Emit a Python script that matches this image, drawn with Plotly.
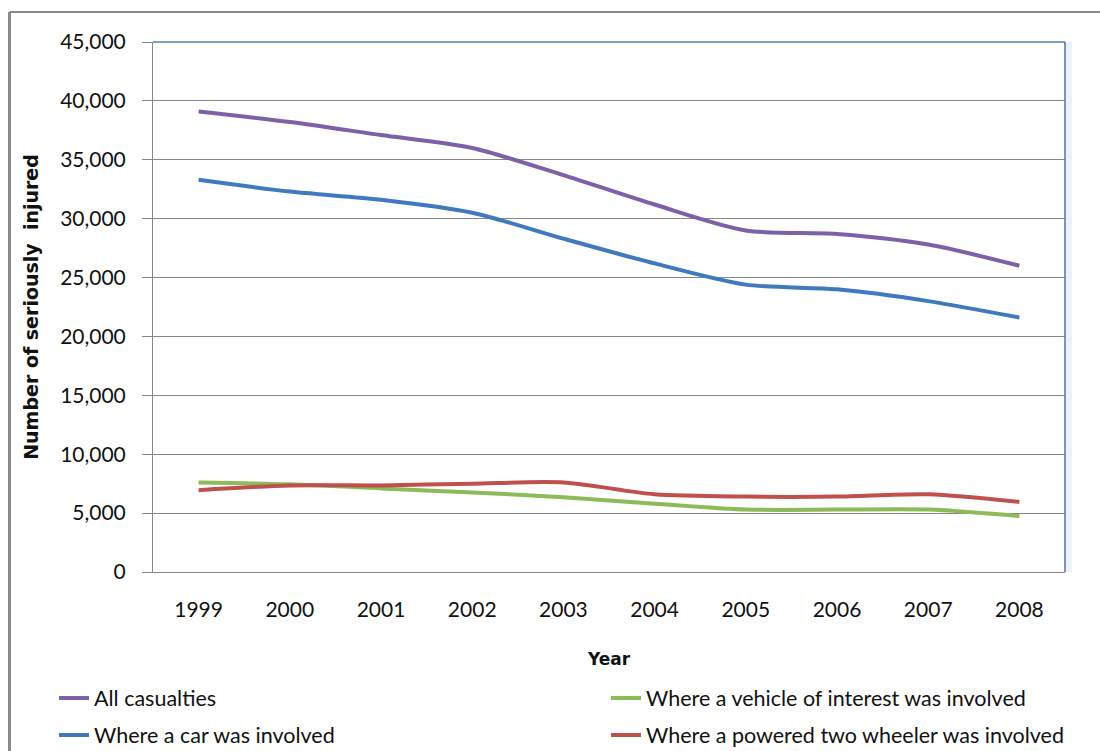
import plotly.graph_objects as go

# Seriously injured casualties by year
years = ["1999", "2000", "2001", "2002", "2003", "2004", "2005", "2006", "2007", "2008"]
all_casualties = [39100, 38200, 37100, 36000, 33700, 31200, 29000, 28700, 27800, 26000]
car_involved = [33300, 32300, 31600, 30500, 28300, 26200, 24400, 24000, 23000, 21600]
vehicle_of_interest = [7600, 7450, 7100, 6750, 6350, 5800, 5300, 5300, 5300, 4750]
ptw_involved = [6950, 7350, 7350, 7500, 7600, 6600, 6400, 6400, 6600, 5950]

y_ticks = [0, 5000, 10000, 15000, 20000, 25000, 30000, 35000, 40000, 45000]

PURPLE = "#7d60a8"
BLUE = "#4079bf"
GREEN = "#8dbb58"
RED = "#c0504d"
GRID = "#878787"
FONT = "Lato"
TITLE_FONT = "DejaVu Sans"

# canvas geometry (px)
W, H = 1100, 751
L, R, T, B = 153, 35, 42, 179
PW, PH = W - L - R, H - T - B


def px_x(px):
    return (px - L) / PW


def px_y(py):
    return (H - B - py) / PH


# name, values, colour, legend id, legend position (px of entry start, row centre)
series = [
    ("All casualties", all_casualties, PURPLE, "legend", (54, 698)),
    ("Where a car was involved", car_involved, BLUE, "legend2", (54, 735)),
    ("Where a vehicle of interest was involved", vehicle_of_interest, GREEN, "legend3", (606, 698)),
    ("Where a powered two wheeler was involved", ptw_involved, RED, "legend4", (606, 735)),
]

fig = go.Figure()
legends = {}
for name, vals, color, leg, (lx, ly) in series:
    fig.add_trace(go.Scatter(
        x=years, y=vals, name=name, mode="lines",
        line=dict(color=color, width=4, shape="spline", smoothing=0.8),
        legend=leg,
    ))
    legends[leg] = dict(
        x=px_x(lx), y=px_y(ly), xanchor="left", yanchor="middle",
        orientation="h",
        font=dict(family=FONT, size=21.5, color="#111111"),
        bgcolor="rgba(0,0,0,0)", borderwidth=0,
    )

fig.update_layout(
    width=W, height=H,
    margin=dict(l=L, r=R, t=T, b=B, pad=0, autoexpand=False),
    paper_bgcolor="white", plot_bgcolor="white",
    font=dict(family=FONT, color="#111111"),
    showlegend=True,
    xaxis=dict(
        type="category", range=[-0.5, 9.5],
        showgrid=False, showline=True, linecolor=GRID, linewidth=1,
        ticks="", ticklabelstandoff=19,
        tickfont=dict(family=FONT, size=21, color="#111111"),
        title=dict(text="<b>Year</b>", font=dict(family=TITLE_FONT, size=17, color="#111111"),
                   standoff=32),
        fixedrange=True,
    ),
    yaxis=dict(
        range=[0, 45000], tickvals=y_ticks, tickformat=",",
        showgrid=True, gridcolor=GRID, gridwidth=1,
        showline=True, linecolor=GRID, linewidth=1,
        ticks="outside", ticklen=10, tickcolor=GRID, tickwidth=1,
        ticklabelstandoff=12,
        tickfont=dict(family=FONT, size=21, color="#111111"),
        title=dict(text="<b>Number of seriously  injured</b>",
                   font=dict(family=TITLE_FONT, size=19, color="#111111"), standoff=16),
        zeroline=False, fixedrange=True,
    ),
    shapes=[
        # outer chart frame (left and top edges visible)
        dict(type="line", xref="paper", yref="paper", x0=px_x(9.5), x1=px_x(1110),
             y0=px_y(12), y1=px_y(12), line=dict(color="#8a8a8a", width=2)),
        dict(type="line", xref="paper", yref="paper", x0=px_x(9.5), x1=px_x(9.5),
             y0=px_y(12), y1=px_y(760), line=dict(color="#8a8a8a", width=3)),
        # plot area top and right borders
        dict(type="line", xref="paper", yref="paper", x0=0, x1=1, y0=1, y1=1,
             line=dict(color="#4f81bd", width=1.5)),
        dict(type="rect", xref="paper", yref="paper", x0=1, x1=px_x(1072), y0=0, y1=1,
             fillcolor="rgba(215,230,245,0.5)", line=dict(width=0), layer="below"),
        dict(type="line", xref="paper", yref="paper", x0=1, x1=1, y0=0, y1=1,
             line=dict(color="#5d7290", width=1.5)),
    ],
    **legends,
)

fig.write_html("out.html")
